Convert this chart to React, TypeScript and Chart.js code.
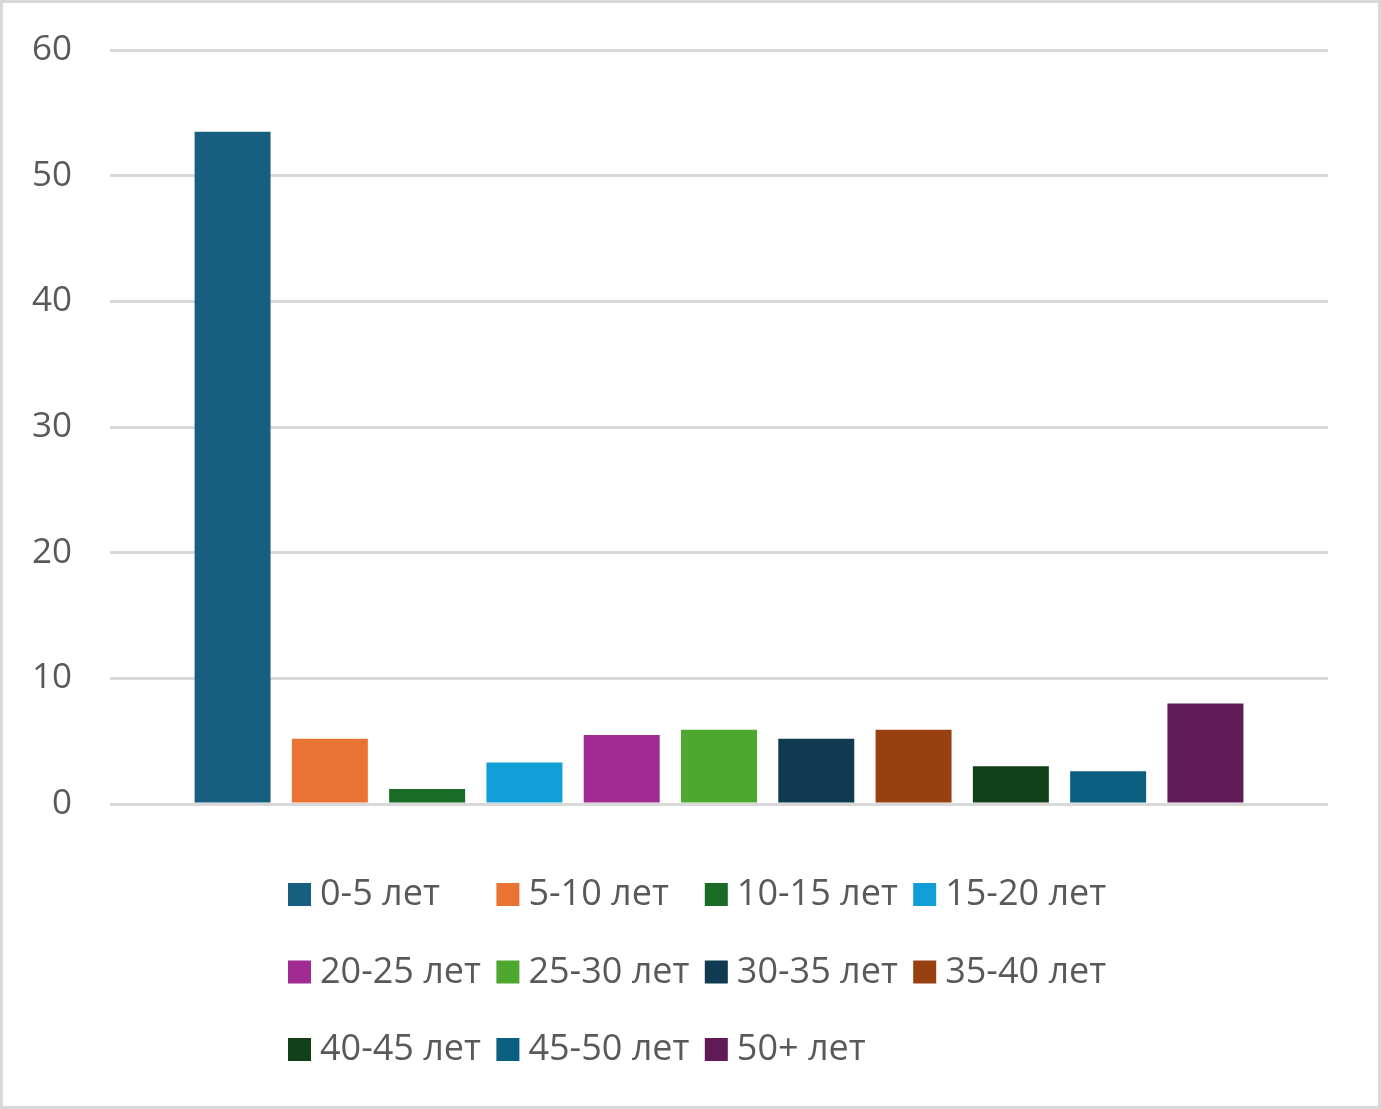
import React, { useEffect, useRef } from "react";
import { Chart, registerables } from "chart.js";

Chart.register(...registerables);

const categories: string[] = [""];
const seriesLabels: string[] = [
  "0-5 лет", "5-10 лет", "10-15 лет", "15-20 лет",
  "20-25 лет", "25-30 лет", "30-35 лет", "35-40 лет",
  "40-45 лет", "45-50 лет", "50+ лет",
];
const seriesValues: number[] = [53.5, 5.2, 1.2, 3.3, 5.5, 5.9, 5.2, 5.9, 3.0, 2.6, 8.0];
const seriesColors: string[] = [
  "#175F80", "#E87335", "#1A6B25", "#119ED6",
  "#A02B93", "#4EA82F", "#0F3A50", "#974111",
  "#114018", "#0A5F80", "#601B56",
];
const yTicks: number[] = [0, 10, 20, 30, 40, 50, 60];

const FONT = "'Open Sans', 'Noto Sans', sans-serif";
const TEXT = "#595959";

const frame = {
  id: "frame",
  beforeDraw(chart: any) {
    const { ctx, width, height } = chart;
    ctx.save();
    ctx.fillStyle = "#ffffff";
    ctx.fillRect(0, 0, width, height);
    ctx.strokeStyle = "#d9d9d9";
    ctx.lineWidth = 3;
    ctx.strokeRect(1.5, 1.5, width - 3, height - 3);
    ctx.restore();
  },
};

const gridLegend = {
  id: "gridLegend",
  afterDraw(chart: any) {
    const { ctx } = chart;
    ctx.save();
    ctx.font = `36px ${FONT}`;
    ctx.textBaseline = "middle";
    ctx.textAlign = "left";
    chart.data.datasets.forEach((ds: any, i: number) => {
      const col = i % 4;
      const row = Math.floor(i / 4);
      const x = 288 + col * 208.4;
      const y = 883 + row * 77.5;
      ctx.fillStyle = ds.backgroundColor;
      ctx.fillRect(x, y, 23, 23);
      ctx.fillStyle = TEXT;
      ctx.fillText(ds.label, x + 32, y + 12);
    });
    ctx.restore();
  },
};

export default function App() {
  const ref = useRef<HTMLCanvasElement | null>(null);

  useEffect(() => {
    if (!ref.current) return;
    const chart = new Chart(ref.current, {
      type: "bar",
      data: {
        labels: categories,
        datasets: seriesLabels.map((label, i) => ({
          label,
          data: [seriesValues[i]],
          backgroundColor: seriesColors[i],
          borderWidth: 0,
          categoryPercentage: 0.8786,
          barPercentage: 0.781,
        })),
      },
      options: {
        animation: false,
        responsive: true,
        maintainAspectRatio: false,
        layout: { padding: { top: 50, right: 53, bottom: 305, left: 0 } },
        plugins: {
          legend: { display: false },
          tooltip: { enabled: false },
        },
        scales: {
          x: { display: false },
          y: {
            min: 0,
            max: 60,
            afterFit: (scale: any) => {
              scale.width = 110;
            },
            afterBuildTicks: (scale: any) => {
              scale.ticks = yTicks.map((v) => ({ value: v }));
            },
            border: { display: false },
            grid: {
              color: "#d9d9d9",
              lineWidth: 3,
              drawTicks: true,
              tickLength: 38,
              tickColor: "rgba(0,0,0,0)",
            },
            ticks: {
              padding: 0,
              color: TEXT,
              font: { family: FONT, size: 35 },
            },
          },
        },
      },
      plugins: [frame, gridLegend],
    });
    return () => chart.destroy();
  }, []);

  return (
    <div style={{ position: "fixed", left: 0, top: 0, width: 1381, height: 1109, background: "#fff" }}>
      <canvas ref={ref} />
    </div>
  );
}
